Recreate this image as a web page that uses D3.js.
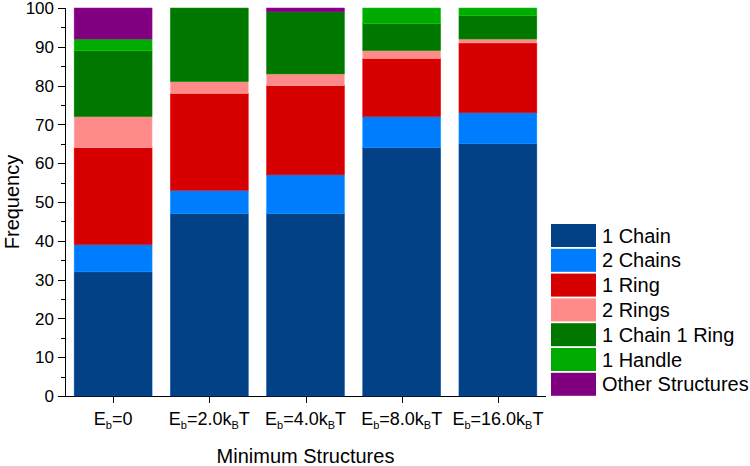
<!DOCTYPE html>
<html>
<head>
<meta charset="utf-8">
<script src="https://cdn.jsdelivr.net/npm/d3@7"></script>
<style>
  html, body { margin: 0; padding: 0; background: #fff; }
  svg { display: block; font-family: "Liberation Sans", Arial, sans-serif; }
</style>
</head>
<body>
<svg id="chart" width="750" height="466"></svg>
<script>
// ---- data ----
const categories = ["0", "2.0", "4.0", "8.0", "16.0"];
const seriesNames = ["1 Chain", "2 Chains", "1 Ring", "2 Rings", "1 Chain 1 Ring", "1 Handle", "Other Structures"];
const oneChain      = [32, 47, 47, 64, 65];
const twoChains     = [7, 6, 10, 8, 8];
const oneRing       = [25, 25, 23, 15, 18];
const twoRings      = [8, 3, 3, 2, 1];
const oneChainRing  = [17, 19, 16, 7, 6];
const oneHandle     = [3, 0, 0, 4, 2];
const otherStruct   = [8, 0, 1, 0, 0];
const yTicks = [0, 10, 20, 30, 40, 50, 60, 70, 80, 90, 100];
const colors = ["#024186", "#007cff", "#d60000", "#ff8a8a", "#007800", "#00aa00", "#800080"];

const seriesValues = [oneChain, twoChains, oneRing, twoRings, oneChainRing, oneHandle, otherStruct];
const table = categories.map((c, i) => {
  const row = { cat: c };
  seriesNames.forEach((s, j) => row[s] = seriesValues[j][i]);
  return row;
});

// ---- layout ----
const svg = d3.select("#chart");
const mLeft = 65, mRight = 546, mTop = 8, mBottom = 396;

const x = d3.scaleBand().domain(categories).range([mLeft, mRight]).paddingInner(0.19).paddingOuter(0.095);
const y = d3.scaleLinear().domain([0, 100]).range([mBottom, mTop]);

const stack = d3.stack().keys(seriesNames)(table);

// axis line bottom
svg.append("line").attr("x1", mLeft).attr("x2", mRight).attr("y1", mBottom + 0.5).attr("y2", mBottom + 0.5)
  .attr("stroke", "#000").attr("stroke-width", 1);

// bars
svg.append("g").selectAll("g").data(stack).join("g")
  .attr("fill", (d, i) => colors[i])
  .attr("stroke", (d, i) => d3.color(colors[i]).brighter(0.7))
  .attr("stroke-width", 0.5)
  .selectAll("rect").data(d => d.filter(p => p[1] > p[0])).join("rect")
  .attr("x", d => x(d.data.cat))
  .attr("width", x.bandwidth())
  .attr("y", d => y(d[1]))
  .attr("height", d => y(d[0]) - y(d[1]));

// y axis
const yAxis = svg.append("g").attr("transform", `translate(${mLeft},0)`);
yAxis.append("line").attr("x1", 0.5).attr("x2", 0.5).attr("y1", mTop).attr("y2", mBottom + 1)
  .attr("stroke", "#000");
const minor = d3.range(5, 100, 10);
yAxis.selectAll("line.minor").data(minor).join("line").attr("class", "minor")
  .attr("x1", -4).attr("x2", 0).attr("y1", d => Math.round(y(d)) + 0.5).attr("y2", d => Math.round(y(d)) + 0.5)
  .attr("stroke", "#000");
yAxis.selectAll("line.major").data(yTicks).join("line").attr("class", "major")
  .attr("x1", -7).attr("x2", 0).attr("y1", d => Math.round(y(d)) + 0.5).attr("y2", d => Math.round(y(d)) + 0.5)
  .attr("stroke", "#000");
yAxis.selectAll("text").data(yTicks).join("text")
  .attr("x", -11).attr("y", d => y(d)).attr("dy", "0.36em")
  .attr("text-anchor", "end").attr("font-size", 17).attr("fill", "#000")
  .text(d => d);

// x ticks
const xAxis = svg.append("g");
xAxis.selectAll("line").data(categories).join("line")
  .attr("x1", d => Math.round(x(d) + x.bandwidth() / 2) + 0.5)
  .attr("x2", d => Math.round(x(d) + x.bandwidth() / 2) + 0.5)
  .attr("y1", mBottom).attr("y2", mBottom + 7).attr("stroke", "#000");
const xl = xAxis.selectAll("text").data(categories).join("text")
  .attr("x", d => x(d) + x.bandwidth() / 2).attr("y", 425)
  .attr("text-anchor", "middle").attr("font-size", 18).attr("fill", "#000");
xl.each(function(d) {
  const t = d3.select(this);
  t.append("tspan").text("E");
  t.append("tspan").attr("font-size", 11).attr("dy", 4).text("b");
  if (d === "0") {
    t.append("tspan").attr("dy", -4).text("=0");
  } else {
    t.append("tspan").attr("dy", -4).text("=" + d + "k");
    t.append("tspan").attr("font-size", 11).attr("dy", 4).text("B");
    t.append("tspan").attr("dy", -4).text("T");
  }
});

// axis titles
svg.append("text").attr("x", (mLeft + mRight) / 2).attr("y", 463)
  .attr("text-anchor", "middle").attr("font-size", 20).attr("fill", "#000").text("Minimum Structures");
svg.append("text").attr("transform", `translate(19,${(mTop + mBottom) / 2}) rotate(-90)`)
  .attr("text-anchor", "middle").attr("font-size", 20).attr("fill", "#000").text("Frequency");

// legend
const lg = svg.append("g").attr("transform", "translate(551,224)");
const items = lg.selectAll("g").data(seriesNames).join("g")
  .attr("transform", (d, i) => `translate(0,${i * 24.8})`);
items.append("rect").attr("width", 45).attr("height", 23).attr("fill", (d, i) => colors[i]);
items.append("text").attr("x", 51).attr("y", 11.5).attr("dy", "0.36em")
  .attr("font-size", 20).attr("fill", "#000").text(d => d);
</script>
</body>
</html>
